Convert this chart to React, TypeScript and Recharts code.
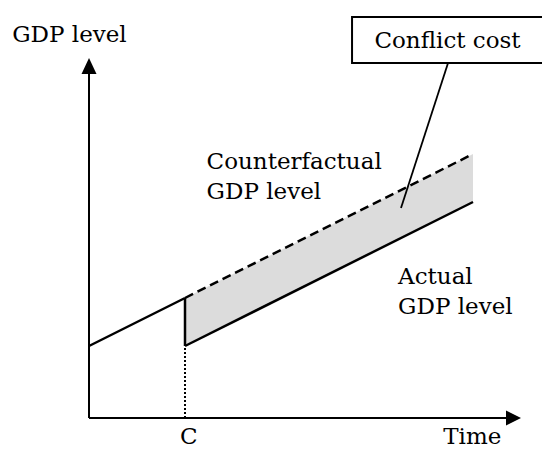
import {ComposedChart, Line, Area, XAxis, YAxis, ReferenceLine, ReferenceDot, ReferenceArea} from "recharts"

// time points (C = conflict at t=2)
const times = [0, 2, 8]
const preConflict = [3, 5, null]
const counterfactual = [null, 5, 11]
const actual = [null, 3, 9]

const FONT = "DejaVu Serif"
const FS = 23

const chartData = times.map((t, i) => ({
    t,
    pre: preConflict[i],
    cf: counterfactual[i],
    act: actual[i],
    band: counterfactual[i] != null && actual[i] != null ? [actual[i], counterfactual[i]] : null,
}))

// text notes anchored in data units
const notes = [
    {x: -1.6, y: 15.65, lines: ["GDP level"], anchor: "start"},
    {x: 2.45, y: 10.375, lines: ["Counterfactual", "GDP level"], anchor: "start"},
    {x: 6.44, y: 5.6, lines: ["Actual", "GDP level"], anchor: "start"},
    {x: 2.08, y: -1.1, lines: ["C"], anchor: "middle"},
    {x: 7.38, y: -1.1, lines: ["Time"], anchor: "start"},
]

function noteShape(lines: string[], anchor: string) {
    return (props: any) => (
        <text x={props.cx} y={props.cy} textAnchor={anchor} fontFamily={FONT} fontSize={FS} fill="#000">
            {lines.map((l, i) => (
                <tspan key={i} x={props.cx} dy={i === 0 ? 0 : 30}>{l}</tspan>
            ))}
        </text>
    )
}

const upArrow = (props: any) => (
    <path d={`M${props.cx},${props.cy} L${props.cx - 7.5},${props.cy + 16} L${props.cx + 7.5},${props.cy + 16} Z`} fill="#000"/>
)
const rightArrow = (props: any) => (
    <path d={`M${props.cx},${props.cy} L${props.cx - 15},${props.cy - 7.5} L${props.cx - 15},${props.cy + 7.5} Z`} fill="#000"/>
)

export default function App() {
    return (
        <div style={{position: "absolute", left: 0, top: 0}}>
            <ComposedChart width={542} height={452} data={chartData}
                           margin={{top: 58, right: 21, bottom: 34, left: 89}}>
                <XAxis type="number" dataKey="t" domain={[0, 9]} hide/>
                <YAxis type="number" domain={[0, 15]} hide/>
                <Area dataKey="band" type="linear" fill="#dcdcdc" fillOpacity={1} stroke="none"
                      isAnimationActive={false} connectNulls={false}/>
                <Line dataKey="pre" type="linear" stroke="#000" strokeWidth={2.5} dot={false}
                      isAnimationActive={false}/>
                <Line dataKey="cf" type="linear" stroke="#000" strokeWidth={2.5} strokeDasharray="9 5"
                      dot={false} isAnimationActive={false}/>
                <Line dataKey="act" type="linear" stroke="#000" strokeWidth={2.5} dot={false}
                      isAnimationActive={false}/>
                {/* drop at conflict */}
                <ReferenceLine segment={[{x: 2, y: 3}, {x: 2, y: 5}]} stroke="#000" strokeWidth={2.5}/>
                <ReferenceLine segment={[{x: 2, y: 0}, {x: 2, y: 3}]} stroke="#000" strokeWidth={2}
                               strokeDasharray="2 2"/>
                {/* axes */}
                <ReferenceLine segment={[{x: 0, y: 0}, {x: 0, y: 14.5}]} stroke="#000" strokeWidth={2}/>
                <ReferenceLine segment={[{x: 0, y: 0}, {x: 8.8, y: 0}]} stroke="#000" strokeWidth={2}/>
                <ReferenceDot x={0} y={15} r={0} shape={upArrow} ifOverflow="visible"/>
                <ReferenceDot x={9} y={0} r={0} shape={rightArrow} ifOverflow="visible"/>
                {/* conflict cost callout */}
                <ReferenceArea x1={5.48} x2={9.5} y1={14.79} y2={16.71} fill="#fff" fillOpacity={1}
                               stroke="#000" strokeWidth={2} ifOverflow="visible"
                               label={{value: "Conflict cost", position: "center", fontFamily: FONT, fontSize: FS, fill: "#000", dx: -1}}/>
                <ReferenceLine segment={[{x: 7.48, y: 14.79}, {x: 6.5, y: 8.75}]} stroke="#000"
                               strokeWidth={1.8} ifOverflow="visible"/>
                {notes.map((n, i) => (
                    <ReferenceDot key={i} x={n.x} y={n.y} r={0} ifOverflow="visible"
                                  shape={noteShape(n.lines, n.anchor)}/>
                ))}
            </ComposedChart>
        </div>
    )
}
